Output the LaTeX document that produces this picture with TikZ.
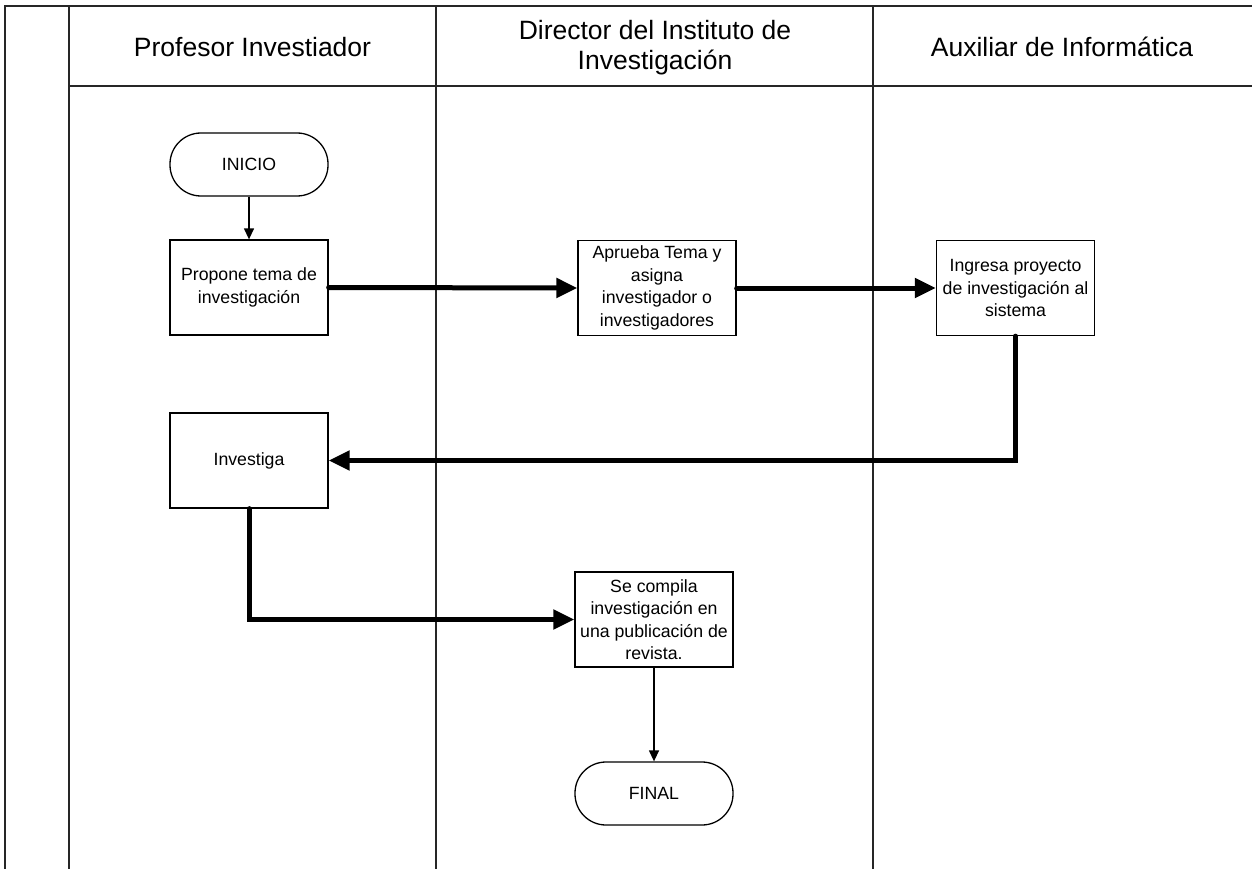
\documentclass[tikz,border=0pt]{standalone}
\usepackage{fontspec}
\setmainfont{Liberation Sans}
\usetikzlibrary{arrows.meta}

\tikzset{
  lane/.style={line width=1.8pt, draw=black!85},
  header/.style={align=center, font=\fontsize{26.5}{30}\selectfont},
  taskbox/.style={draw, line width=1.3pt, minimum width=158pt, minimum height=95pt,
    align=center, inner sep=2pt, font=\fontsize{17.7}{22.5}\selectfont},
  terminal/.style={draw, line width=1.3pt, minimum width=158pt, minimum height=63pt,
    rounded corners=31pt, align=center, font=\fontsize{17.7}{22.5}\selectfont},
  flowthin/.style={line width=1.3pt, -{Triangle[length=11pt,width=10pt]}},
  flowthick/.style={line width=5pt, line cap=round, line join=miter,
    -{Triangle[length=21pt,width=19pt]}}
}

\begin{document}
\begin{tikzpicture}[x=1pt,y=-1pt]
  \useasboundingbox (0,0) rectangle (1252,869);

  % swimlane frame
  \draw[lane] (5,869) -- (5,6) -- (1252,6);
  \draw[lane] (69,6) -- (69,869);
  \draw[lane] (69,86) -- (1252,86);
  \draw[lane] (436,6) -- (436,869);
  \draw[lane] (873,6) -- (873,869);

  % lane headers
  \node[header] (h1) at (252.5,47) {Profesor Investiador};
  \node[header] (h2) at (655,47.5) {Director del Instituto de\\Investigación};
  \node[header] (h3) at (1062,47) {Auxiliar de Informática};

  % process steps
  \node[terminal] (inicio) at (249,164.5) {INICIO};
  \node[taskbox] (propone) at (249,287.5) {Propone tema de\\investigación};
  \node[taskbox] (aprueba) at (657,288) {Aprueba Tema y\\asigna\\investigador o\\investigadores};
  \node[taskbox] (ingresa) at (1015.5,288) {Ingresa proyecto\\de investigación al\\sistema};
  \node[taskbox] (investiga) at (249,460.5) {Investiga};
  \node[taskbox] (compila) at (654,619.5) {Se compila\\investigación en\\una publicación de\\revista.};
  \node[terminal] (final) at (654,793.5) {FINAL};

  % connectors
  \draw[flowthin] (inicio.south) -- (propone.north);
  \draw[flowthick] (propone.east) -- (aprueba.west);
  \draw[flowthick] (aprueba.east) -- (ingresa.west);
  \draw[flowthick] (ingresa.south) |- (investiga.east);
  \draw[flowthick] (investiga.south) |- (compila.west);
  \draw[flowthin] (compila.south) -- (final.north);
\end{tikzpicture}
\end{document}
